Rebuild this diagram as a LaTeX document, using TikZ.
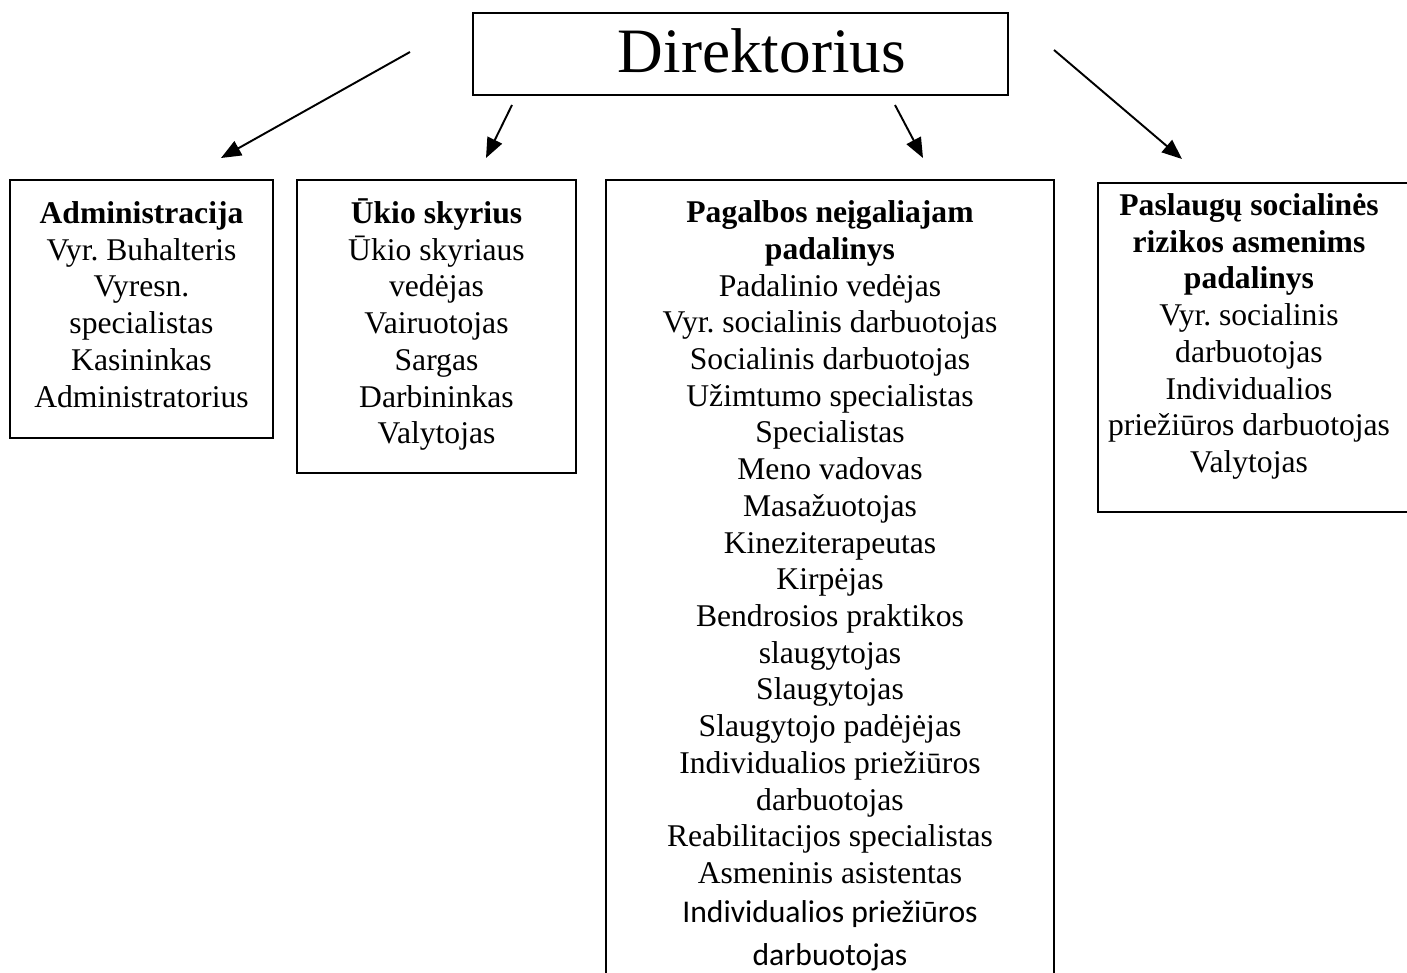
\documentclass[tikz,border=0pt]{standalone}
\usepackage{fontspec}
\setmainfont{Liberation Serif}
\newfontfamily\calfont{Carlito}
\usetikzlibrary{arrows.meta, positioning}
\tikzstyle{unit} = [rectangle, draw=black, line width=1.1pt, inner sep=0pt]
\tikzstyle{staff} = [align=center, inner sep=0pt, font=\fontsize{18}{20.9}\selectfont]
\tikzstyle{arrow} = [line width=1.1pt, -{Triangle[length=0.4cm, width=0.32cm]}]
\newcommand{\firstline}{\rule{0pt}{16pt}}
\frenchspacing

\begin{document}
\begin{tikzpicture}[x=0.02cm, y=-0.02cm]
\useasboundingbox (0,0) rectangle (1407,973);

%Direktorius
\node(dir)at(740.5,54)[unit, minimum width=10.7cm, minimum height=1.64cm]{};
\node(dirTxt)at(762,73)[anchor=base, inner sep=0pt, font=\fontsize{36}{41}\selectfont]{Direktorius};

%Administracija
\node(admin)at(141.5,309)[unit, minimum width=5.26cm, minimum height=5.16cm]{};
\node(adminTxt)[staff, below=0.32cm of admin.north]{\firstline\textbf{Administracija}\\ Vyr. Buhalteris\\ Vyresn.\\ specialistas\\ Kasininkas\\ Administratorius};

%Ukio skyrius
\node(ukis)at(436.5,326.5)[unit, minimum width=5.58cm, minimum height=5.86cm]{};
\node(ukisTxt)[staff, below=0.32cm of ukis.north]{\firstline\textbf{Ūkio skyrius}\\ Ūkio skyriaus\\ vedėjas\\ Vairuotojas\\ Sargas\\ Darbininkas\\ Valytojas};

%Pagalbos neigaliajam padalinys
\node(pagalba)at(830,590)[unit, minimum width=8.96cm, minimum height=16.4cm]{};
\node(pagalbaTxt)[staff, below=0.30cm of pagalba.north]{\firstline\textbf{Pagalbos neįgaliajam}\\ \textbf{padalinys}\\
    Padalinio vedėjas\\ Vyr. socialinis darbuotojas\\ Socialinis darbuotojas\\ Užimtumo specialistas\\
    Specialistas\\ Meno vadovas\\ Masažuotojas\\ Kineziterapeutas\\ Kirpėjas\\ Bendrosios praktikos\\
    slaugytojas\\ Slaugytojas\\ Slaugytojo padėjėjas\\ Individualios priežiūros\\ darbuotojas\\
    Reabilitacijos specialistas\\ Asmeninis asistentas\\[1.3pt]
    {\calfont Individualios priežiūros}\\[3.6pt] {\calfont darbuotojas}};

%Paslaugu socialines rizikos asmenims padalinys
\node(paslaugos)at(1259,347.5)[unit, minimum width=6.44cm, minimum height=6.58cm]{};
\node(paslaugosTxt)at(1249,187)[staff, anchor=north]{\firstline\textbf{Paslaugų socialinės}\\ \textbf{rizikos asmenims}\\ \textbf{padalinys}\\
    Vyr. socialinis\\ darbuotojas\\ Individualios\\ priežiūros darbuotojas\\ Valytojas};

%arrows
\coordinate(adminFrom)at(410,52);
\coordinate(adminTo)at(221,158);
\coordinate(ukisFrom)at(512,105);
\coordinate(ukisTo)at(486,158);
\coordinate(pagalbaFrom)at(895,105);
\coordinate(pagalbaTo)at(923,158);
\coordinate(paslaugosFrom)at(1054,50);
\coordinate(paslaugosTo)at(1182,159);
\draw[arrow](adminFrom)--(adminTo);
\draw[arrow](ukisFrom)--(ukisTo);
\draw[arrow](pagalbaFrom)--(pagalbaTo);
\draw[arrow](paslaugosFrom)--(paslaugosTo);
\end{tikzpicture}
\end{document}
